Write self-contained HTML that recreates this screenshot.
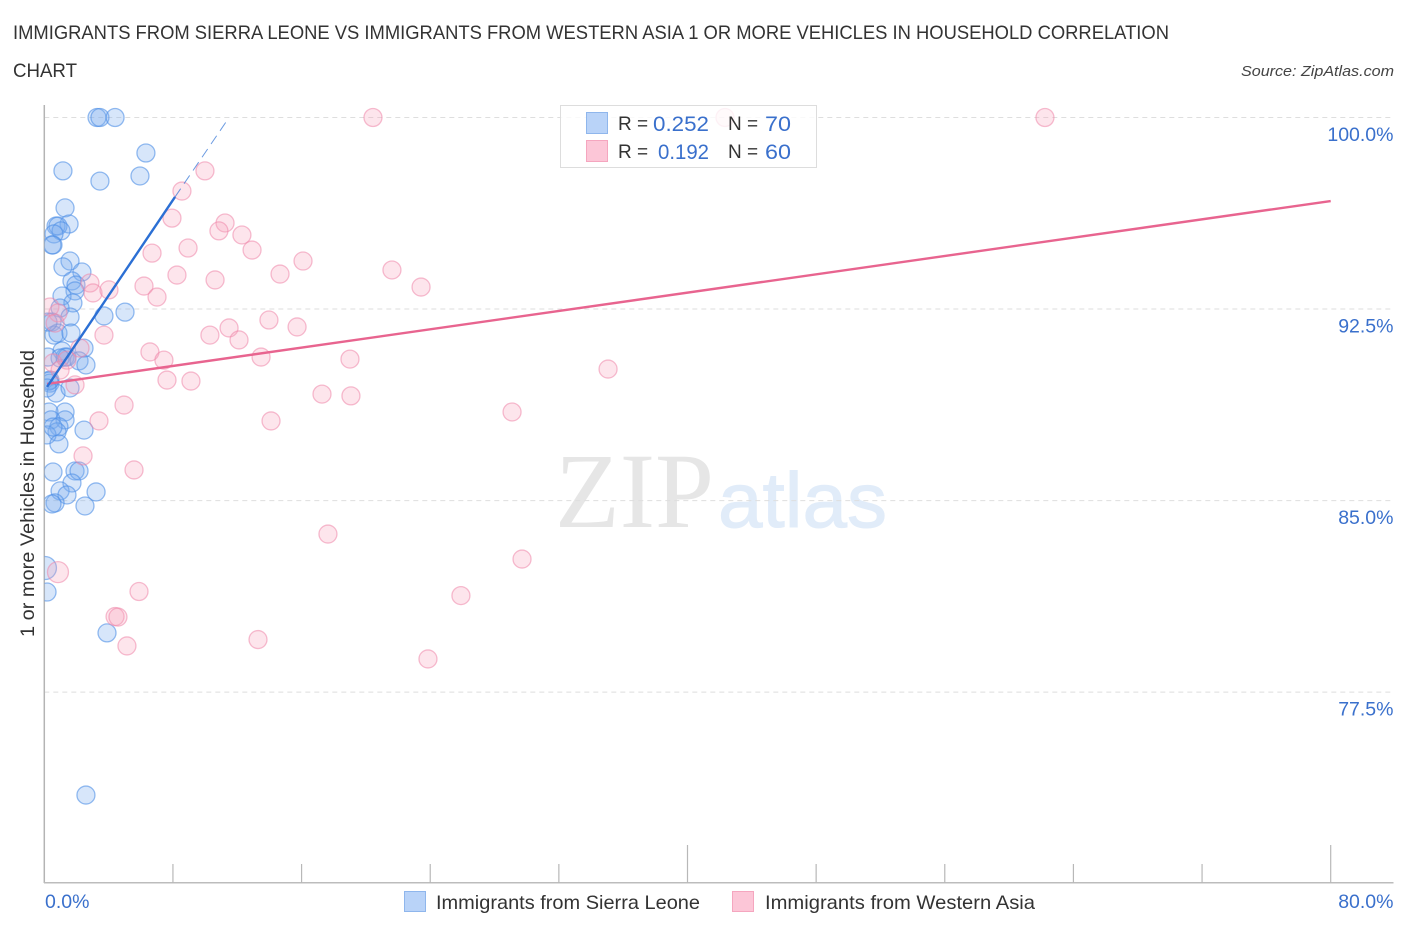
<!DOCTYPE html>
<html lang="en">
<head>
<meta charset="utf-8">
<title>Immigrants from Sierra Leone vs Immigrants from Western Asia correlation chart</title>
<style>
html,body{margin:0;padding:0;background:#fff;}
svg{display:block;font-family:"Liberation Sans",sans-serif;}
</style>
</head>
<body>
<svg id="chart" xmlns="http://www.w3.org/2000/svg" width="1406" height="930" viewBox="0 0 1406 930">
  <defs>
    <clipPath id="plot-clip"><rect x="44.5" y="100" width="1350" height="783"></rect></clipPath>
  </defs>
  <rect x="0" y="0" width="1406" height="930" fill="#ffffff"></rect>

  <text x="13" y="39" font-size="19" fill="#333333" textLength="1156" lengthAdjust="spacingAndGlyphs">IMMIGRANTS FROM SIERRA LEONE VS IMMIGRANTS FROM WESTERN ASIA 1 OR MORE VEHICLES IN HOUSEHOLD CORRELATION</text>
  <text x="13" y="77" font-size="19" fill="#333333" textLength="64" lengthAdjust="spacingAndGlyphs">CHART</text>
  <text x="1241" y="76" font-size="15" font-style="italic" fill="#444444" textLength="153" lengthAdjust="spacingAndGlyphs">Source: ZipAtlas.com</text>

  <g>
    <text x="555" y="527" font-family="'Liberation Serif',serif" font-size="107" fill="#e6e6e6" textLength="159" lengthAdjust="spacingAndGlyphs">ZIP</text>
    <text x="718" y="527" font-size="78" fill="#e1ecf9" stroke="#e1ecf9" stroke-width="1" textLength="169" lengthAdjust="spacingAndGlyphs">atlas</text>
  </g>

  <g id="grid"></g>
  <g id="axes"></g>
  <g id="blue-points" clip-path="url(#plot-clip)"></g>
  <g id="pink-points" clip-path="url(#plot-clip)"></g>
  <g id="trend-lines"></g>

  <text transform="translate(34,637) rotate(-90)" x="0" y="0" font-size="19" fill="#333333" textLength="287" lengthAdjust="spacingAndGlyphs">1 or more Vehicles in Household</text>

  <g>
    <rect x="560.5" y="105.5" width="256" height="62" fill="#ffffff" fill-opacity="0.8" stroke="#dddddd"></rect>
    <rect x="586.5" y="112.5" width="21" height="21" fill="#b9d3f8" stroke="#8fb6ec"></rect>
    <text x="618" y="130" font-size="19" fill="#333333">R =</text>
    <text x="653" y="131" font-size="21.5" fill="#3a70cc" textLength="56" lengthAdjust="spacingAndGlyphs">0.252</text>
    <text x="728" y="130" font-size="19" fill="#333333">N =</text>
    <text x="765" y="131" font-size="21.5" fill="#3a70cc" textLength="26" lengthAdjust="spacingAndGlyphs">70</text>
    <rect x="586.5" y="140.5" width="21" height="21" fill="#fcc6d7" stroke="#f5a6bf"></rect>
    <text x="618" y="158" font-size="19" fill="#333333">R =</text>
    <text x="658" y="159" font-size="21.5" fill="#3a70cc" textLength="51" lengthAdjust="spacingAndGlyphs">0.192</text>
    <text x="728" y="158" font-size="19" fill="#333333">N =</text>
    <text x="765" y="159" font-size="21.5" fill="#3a70cc" textLength="26" lengthAdjust="spacingAndGlyphs">60</text>
  </g>

  <g>
    <rect x="404.5" y="891.5" width="21" height="20" fill="#b9d3f8" stroke="#8fb6ec"></rect>
    <text x="436" y="909" font-size="19.5" fill="#333333" textLength="264" lengthAdjust="spacingAndGlyphs">Immigrants from Sierra Leone</text>
    <rect x="732.5" y="891.5" width="21" height="20" fill="#fcc6d7" stroke="#f5a6bf"></rect>
    <text x="765" y="909" font-size="19.5" fill="#333333" textLength="270" lengthAdjust="spacingAndGlyphs">Immigrants from Western Asia</text>
  </g>
</svg>
<script>
const xTicks = [0, 8, 16, 24, 32, 40, 48, 56, 64, 72, 80];
const xMajorTicks = [40, 80];
const xTickLabels = ["0.0%", "80.0%"];
const yGridValues = [100, 92.5, 85, 77.5];
const yTickLabels = ["100.0%", "92.5%", "85.0%", "77.5%"];

const blueX = [3.28,3.46,4.40,6.32,5.95,3.46,1.16,1.29,1.54,0.73,0.85,1.04,0.60,0.54,0.48,1.60,1.16,2.34,1.72,1.97,1.91,1.10,1.78,0.98,5.02,3.71,1.60,0.48,0.60,0.85,1.66,2.47,1.10,0.23,1.29,1.41,2.16,2.59,0.35,0.35,0.73,1.60,1.29,0.29,1.29,0.42,0.91,0.79,2.47,0.17,0.91,1.91,2.16,0.54,1.72,0.98,3.22,1.41,0.67,0.48,2.53,0.04,0.17,3.90,2.59,0.29,0.17,0.23,0.98,0.54];
const blueY = [100,100,100,98.61,97.71,97.51,97.91,96.46,95.83,95.75,95.75,95.56,95.44,95.01,95.01,94.38,94.15,93.95,93.60,93.44,93.21,93.01,92.74,92.54,92.38,92.23,92.19,91.99,91.48,91.56,91.56,90.97,90.86,90.62,90.62,90.62,90.47,90.31,89.72,89.60,89.21,89.41,88.47,88.47,88.16,88.16,87.89,87.69,87.76,87.57,87.22,86.16,86.16,86.12,85.69,85.38,85.34,85.22,84.91,84.87,84.79,82.36,81.42,79.82,73.47,89.68,89.41,91.99,90.58,87.88];
const blueLargeIndex = [61];

const pinkX = [20.44,42.33,62.23,9.99,8.56,7.94,11.24,10.86,12.29,8.94,12.92,6.70,16.09,14.66,8.25,21.62,10.62,23.43,2.84,6.20,3.03,4.02,7.01,0.35,0.85,0.67,13.97,15.72,11.49,10.30,12.11,3.71,6.57,2.22,7.44,13.48,19.01,35.06,1.41,0.54,0.98,7.63,9.12,1.91,17.27,19.07,4.96,29.09,3.40,14.10,2.41,5.58,17.64,29.71,0.85,5.89,25.91,4.40,4.58,13.29,5.14,23.86];
const pinkY = [100,100,100,97.91,97.12,96.06,95.87,95.56,95.40,94.89,94.81,94.69,94.38,93.87,93.83,94.03,93.64,93.36,93.52,93.40,93.13,93.25,92.97,92.58,92.35,91.95,92.07,91.80,91.76,91.48,91.29,91.48,90.82,90.97,90.50,90.62,90.54,90.15,90.50,90.39,90.11,89.72,89.68,89.53,89.17,89.10,88.74,88.47,88.12,88.12,86.75,86.20,83.69,82.71,82.20,81.44,81.28,80.46,80.44,79.56,79.31,78.80];
const pinkLargeIndex = [54];

const blueTrendX = [0.17, 8.13];
const blueTrendY = [89.45, 96.89];
const blueTrendExtX = [8.13, 11.49];
const blueTrendExtY = [96.89, 100];
const pinkTrendX = [0.17, 80];
const pinkTrendY = [89.57, 96.73];

const SVG_NS = "http://www.w3.org/2000/svg";
const xScale = v => 44.3 + v * 16.08;
const yScale = v => 117.5 + (100 - v) * 25.54;

function make(tag, attrs, parent) {
  const el = document.createElementNS(SVG_NS, tag);
  Object.keys(attrs).forEach(k => el.setAttribute(k, attrs[k]));
  parent.appendChild(el);
  return el;
}

const gridG = document.getElementById("grid");
yGridValues.forEach((v, i) => {
  const line = make("line", {x1: 44.3, x2: 1393, y1: yScale(v), y2: yScale(v), stroke: "#dedede", "stroke-width": 1, "stroke-dasharray": "5 4"}, gridG);
  
  
  const label = make("text", {x: 1393.5, y: yScale(v) + 23.5, "text-anchor": "end", "font-size": 19.5, fill: "#3a70cc"}, gridG);
  
  
  label.textContent = yTickLabels[i];
});

const axesG = document.getElementById("axes");
const yAxis = make("line", {x1: 44.3, x2: 44.3, y1: 105, y2: 883, stroke: "#b4b4b4", "stroke-width": 1.5}, axesG);


const xAxis = make("line", {x1: 44, x2: 1393.5, y1: 882.8, y2: 882.8, stroke: "#bcbcbc", "stroke-width": 1.5}, axesG);


xTicks.forEach(v => {
  if (v === 0) return;
  const top = xMajorTicks.includes(v) ? 845 : 864;
  const tick = make("line", {x1: xScale(v), x2: xScale(v), y1: top, y2: 883, stroke: "#b8b8b8", "stroke-width": 1.2}, axesG);
  
  
});
const xLabel0 = make("text", {x: 45, y: 908, "font-size": 19.5, fill: "#3a70cc"}, axesG);


xLabel0.textContent = xTickLabels[0];
const xLabel1 = make("text", {x: 1393.5, y: 908, "text-anchor": "end", "font-size": 19.5, fill: "#3a70cc"}, axesG);


xLabel1.textContent = xTickLabels[1];

const blueG = document.getElementById("blue-points");
blueX.forEach((x, i) => {
  const big = blueLargeIndex.includes(i);
  const c = make("circle", {cx: xScale(x), cy: yScale(blueY[i]), r: big ? 11.5 : 9, fill: "#7aabef", "fill-opacity": 0.3, stroke: "#4f8fe6", "stroke-opacity": 0.6, "stroke-width": 1.3}, blueG);
  
  
});

const pinkG = document.getElementById("pink-points");
pinkX.forEach((x, i) => {
  const big = pinkLargeIndex.includes(i);
  const c = make("circle", {cx: xScale(x), cy: yScale(pinkY[i]), r: big ? 10.5 : 9, fill: "#f9a0bb", "fill-opacity": 0.28, stroke: "#ee86a9", "stroke-opacity": 0.55, "stroke-width": 1.3}, pinkG);
  
  
});

const trendG = document.getElementById("trend-lines");
const blueExt = make("line", {x1: xScale(blueTrendExtX[0]), y1: yScale(blueTrendExtY[0]), x2: xScale(blueTrendExtX[1]), y2: yScale(blueTrendExtY[1]), stroke: "#2b6fd4", "stroke-width": 1, "stroke-dasharray": "10 6", "stroke-opacity": 0.7}, trendG);


const pinkTrend = make("line", {x1: xScale(pinkTrendX[0]), y1: yScale(pinkTrendY[0]), x2: xScale(pinkTrendX[1]), y2: yScale(pinkTrendY[1]), stroke: "#e8648f", "stroke-width": 2.4}, trendG);


const blueTrend = make("line", {x1: xScale(blueTrendX[0]), y1: yScale(blueTrendY[0]), x2: xScale(blueTrendX[1]), y2: yScale(blueTrendY[1]), stroke: "#2b6fd4", "stroke-width": 2.4}, trendG);


</script>
</body>
</html>
